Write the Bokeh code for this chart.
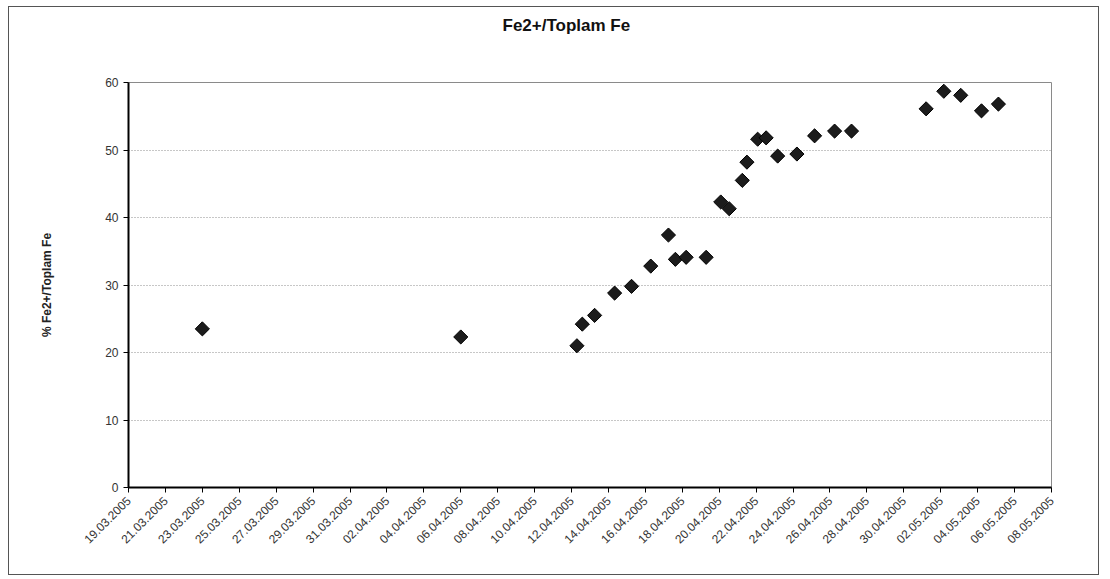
import numpy as np
import pandas as pd
from bokeh.plotting import figure
from bokeh.models import Range1d, FixedTicker, DatetimeTickFormatter, Title
from bokeh.embed import file_html
from bokeh.resources import INLINE

# Sampling times and measured Fe2+ share of total iron (%)
sample_times = [
    "2005-03-23 00:00", "2005-04-06 00:00", "2005-04-12 07:00", "2005-04-12 14:00",
    "2005-04-13 06:00", "2005-04-14 08:00", "2005-04-15 06:00", "2005-04-16 07:00",
    "2005-04-17 06:00", "2005-04-17 15:00", "2005-04-18 05:00", "2005-04-19 07:00",
    "2005-04-20 02:00", "2005-04-20 13:00", "2005-04-21 06:00", "2005-04-21 12:00",
    "2005-04-22 02:00", "2005-04-22 13:00", "2005-04-23 04:00", "2005-04-24 05:00",
    "2005-04-25 04:00", "2005-04-26 06:00", "2005-04-27 04:00", "2005-05-01 05:00",
    "2005-05-02 04:00", "2005-05-03 02:00", "2005-05-04 05:00", "2005-05-05 03:00",
]
fe2_ratio = [
    23.5, 22.3, 21.0, 24.2,
    25.5, 28.8, 29.8, 32.8,
    37.4, 33.8, 34.1, 34.1,
    42.3, 41.3, 45.5, 48.2,
    51.6, 51.8, 49.1, 49.4,
    52.1, 52.8, 52.8, 56.1,
    58.7, 58.1, 55.8, 56.8,
]

# Date axis labels (every second day)
tick_labels = [
    "19.03.2005", "21.03.2005", "23.03.2005", "25.03.2005", "27.03.2005",
    "29.03.2005", "31.03.2005", "02.04.2005", "04.04.2005", "06.04.2005",
    "08.04.2005", "10.04.2005", "12.04.2005", "14.04.2005", "16.04.2005",
    "18.04.2005", "20.04.2005", "22.04.2005", "24.04.2005", "26.04.2005",
    "28.04.2005", "30.04.2005", "02.05.2005", "04.05.2005", "06.05.2005",
    "08.05.2005",
]
y_ticks = [0, 10, 20, 30, 40, 50, 60]

FONT = "Liberation Sans"

tick_dates = pd.to_datetime(tick_labels, format="%d.%m.%Y")
epoch = pd.Timestamp("1970-01-01")
tick_ms = [float((d - epoch) / pd.Timedelta(milliseconds=1)) for d in tick_dates]
x_times = pd.to_datetime(sample_times)

p = figure(
    width=1110, height=579,
    x_axis_type="datetime",
    x_range=Range1d(tick_dates[0], tick_dates[-1]),
    y_range=Range1d(0, 60),
    output_backend="svg", toolbar_location=None,
    min_border_left=128, min_border_right=59,
    min_border_top=82, min_border_bottom=92,
    title="Fe2+/Toplam Fe",
)

# Thin frame around the whole chart area
p.stylesheets = [
    ":host::after { content: ''; position: absolute; left: 8px; top: 6px; "
    "width: 1089px; height: 567px; border: 1px solid #555555; "
    "pointer-events: none; z-index: 10; }"
]

p.background_fill_color = "white"
p.border_fill_color = "white"
p.outline_line_color = "#8a8a8a"
p.outline_line_width = 1

# Empty band between the title and the plot area
p.add_layout(Title(text=" ", text_font_size="10px", standoff=30), "above")

p.title.align = "left"
p.title.offset = 374
p.title.text_font = FONT
p.title.text_font_size = "17px"
p.title.text_font_style = "bold"
p.title.text_color = "#111111"
p.title.standoff = 10

# Grid: dotted horizontal lines only
p.xgrid.visible = False
p.ygrid.grid_line_color = "#8f8f8f"
p.ygrid.grid_line_dash = "1 2"
p.ygrid.grid_line_width = 1

# y axis
p.yaxis.ticker = FixedTicker(ticks=y_ticks)
p.yaxis.axis_label = "% Fe2+/Toplam Fe"
p.yaxis.axis_label_text_font = FONT
p.yaxis.axis_label_text_font_size = "12px"
p.yaxis.axis_label_text_font_style = "bold"
p.yaxis.axis_label_text_color = "#222222"
p.yaxis.axis_label_standoff = 48
p.yaxis.major_label_text_font = FONT
p.yaxis.major_label_text_font_size = "12px"
p.yaxis.major_label_text_color = "#333333"
p.yaxis.major_label_standoff = 5
p.yaxis.minor_tick_line_color = None
p.yaxis.major_tick_in = 0
p.yaxis.major_tick_out = 5
p.yaxis.axis_line_color = "black"
p.yaxis.axis_line_width = 2
p.yaxis.major_tick_line_color = "black"

# x axis
p.xaxis.ticker = FixedTicker(ticks=tick_ms)
fmt = "%d.%m.%Y"
p.xaxis.formatter = DatetimeTickFormatter(
    microseconds=fmt, milliseconds=fmt, seconds=fmt, minsec=fmt, minutes=fmt,
    hourmin=fmt, hours=fmt, days=fmt, months=fmt, years=fmt, context=None,
)
p.xaxis.major_label_orientation = np.pi / 4
p.xaxis.major_label_text_font = FONT
p.xaxis.major_label_text_font_size = "12px"
p.xaxis.major_label_text_color = "#333333"
p.xaxis.major_label_standoff = 6
p.xaxis.minor_tick_line_color = None
p.xaxis.major_tick_in = 0
p.xaxis.major_tick_out = 5
p.xaxis.axis_line_color = "black"
p.xaxis.axis_line_width = 2
p.xaxis.major_tick_line_color = "black"

# Measurements as diamonds
p.scatter(
    x=x_times, y=fe2_ratio,
    marker="square", angle=np.pi / 4, size=10,
    fill_color="#1c1c1c", line_color="black", line_width=1,
)

open("out.html", "w").write(file_html(p, INLINE))
